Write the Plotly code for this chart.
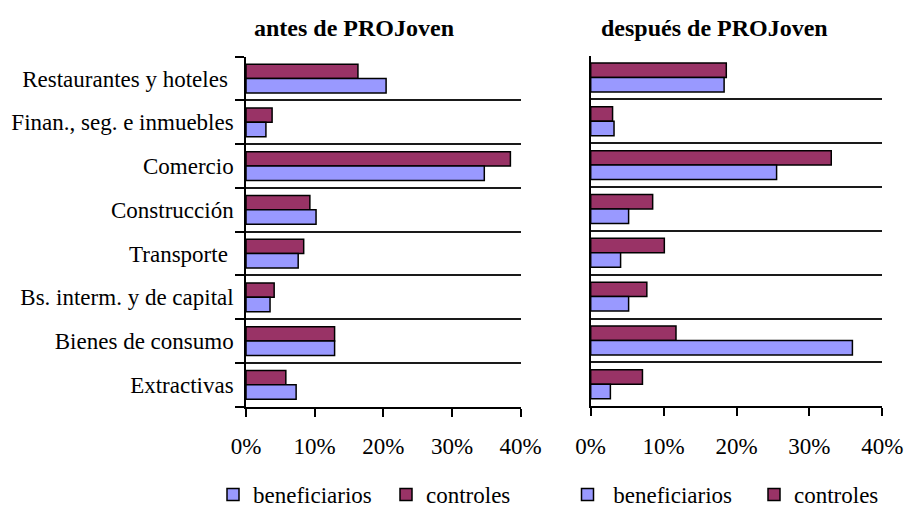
import plotly.graph_objects as go

# Data (top-to-bottom order as shown)
categories = ["Restaurantes y hoteles", "Finan., seg. e inmuebles", "Comercio", "Construcción",
              "Transporte", "Bs. interm. y de capital", "Bienes de consumo", "Extractivas"]
tick_labels = ["Restaurantes y hoteles\u00a0", "Finan., seg. e inmuebles", "Comercio", "Construcción",
               "Transporte\u00a0", "Bs. interm. y de capital", "Bienes de consumo", "Extractivas"]

antes_beneficiarios = [0.204, 0.029, 0.347, 0.102, 0.076, 0.035, 0.129, 0.073]
antes_controles     = [0.163, 0.038, 0.385, 0.093, 0.084, 0.041, 0.129, 0.058]
despues_beneficiarios = [0.183, 0.032, 0.255, 0.052, 0.041, 0.052, 0.359, 0.027]
despues_controles     = [0.186, 0.030, 0.330, 0.085, 0.101, 0.077, 0.117, 0.071]

x_ticks = [0, 0.1, 0.2, 0.3, 0.4]
x_tick_labels = ["0%", "10%", "20%", "30%", "40%"]

COL_BEN = "#9999FF"
COL_CON = "#993366"
FONT = "Liberation Serif"
W, H = 908, 512

fig = go.Figure()


def px_x(p):
    return p / W


def px_y(p):
    return (H - p) / H


def add_panel(ctrl, ben, xa, ya, leg_ben, leg_con, ben_name):
    fig.add_trace(go.Bar(y=categories, x=ctrl, orientation="h", name="controles",
                         marker=dict(color=COL_CON, line=dict(color="black", width=1.5)),
                         xaxis=xa, yaxis=ya, legend=leg_con))
    fig.add_trace(go.Bar(y=categories, x=ben, orientation="h", name=ben_name,
                         marker=dict(color=COL_BEN, line=dict(color="black", width=1.5)),
                         xaxis=xa, yaxis=ya, legend=leg_ben))


add_panel(antes_controles, antes_beneficiarios, "x", "y", "legend", "legend2", "beneficiarios")
add_panel(despues_controles, despues_beneficiarios, "x2", "y2", "legend3", "legend4",
          "\u00a0beneficiarios")

xcommon = dict(range=[0, 0.4], tickvals=x_ticks, ticktext=x_tick_labels, ticks="outside",
               ticklen=8, tickwidth=1.5, tickcolor="black", showline=True, linecolor="black",
               linewidth=2, showgrid=False, zeroline=False, ticklabelstandoff=10,
               tickfont=dict(family=FONT, size=23, color="black"), fixedrange=True)

ycommon = dict(type="category", categoryorder="array", categoryarray=categories,
               autorange="reversed", tickson="boundaries", showgrid=True, gridcolor="#1a1a1a",
               gridwidth=1.5, showline=True, linecolor="black", linewidth=1.5, zeroline=False,
               fixedrange=True)


def leg(xpx):
    return dict(orientation="h", x=px_x(xpx), y=px_y(494.5), xanchor="left", yanchor="middle",
                font=dict(family=FONT, size=23, color="black"), bgcolor="rgba(0,0,0,0)",
                borderwidth=0)


fig.update_layout(
    width=W, height=H,
    margin=dict(l=0, r=0, t=0, b=0, autoexpand=False),
    paper_bgcolor="white", plot_bgcolor="white",
    barmode="group", bargap=0.34, bargroupgap=0,
    font=dict(family=FONT, color="black"),
    xaxis=dict(domain=[px_x(246), px_x(520.7)], anchor="y", **xcommon),
    xaxis2=dict(domain=[px_x(590.7), px_x(882.3)], anchor="y2", **xcommon),
    yaxis=dict(domain=[px_y(406.7), px_y(56.7)], anchor="x", ticks="outside", ticklen=9,
               tickwidth=1.5, tickcolor="black", tickvals=categories, ticktext=tick_labels,
               ticklabelstandoff=6, tickfont=dict(family=FONT, size=23, color="black"), **ycommon),
    yaxis2=dict(domain=[px_y(406.2), px_y(55.5)], anchor="x2", ticks="", showticklabels=False,
                **ycommon),
    legend=leg(213),
    legend2=leg(386),
    legend3=leg(567.5),
    legend4=leg(754),
    annotations=[
        dict(text="<b>antes de PROJoven</b>", x=px_x(353.5), y=px_y(28), xref="paper", yref="paper",
             xanchor="center", yanchor="middle", showarrow=False,
             font=dict(family=FONT, size=24, color="black")),
        dict(text="<b>después de PROJoven</b>", x=px_x(714), y=px_y(28), xref="paper", yref="paper",
             xanchor="center", yanchor="middle", showarrow=False,
             font=dict(family=FONT, size=24, color="black")),
    ],
    showlegend=True,
)

fig.write_html("out.html", config={"displayModeBar": False},
               post_script="document.body.style.margin='0';")
